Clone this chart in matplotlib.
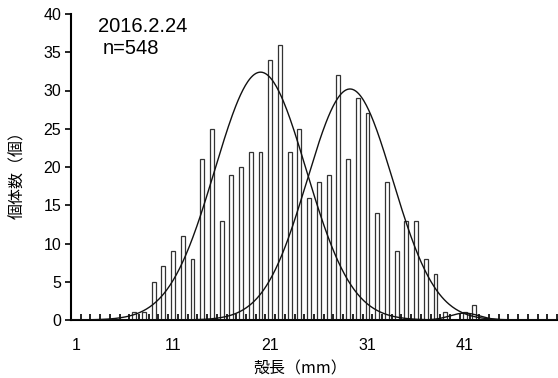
import numpy as np
import matplotlib
matplotlib.use("Agg")
import matplotlib.pyplot as plt
from matplotlib.ticker import MultipleLocator, FixedLocator

# shell length classes (mm) and counts
length = list(range(1, 51))
counts = [0, 0, 0, 0, 0, 0, 1, 1, 5, 7,
          9, 11, 8, 21, 25, 13, 19, 20, 22, 22,
          34, 36, 22, 25, 16, 18, 19, 32, 21, 29,
          27, 14, 18, 9, 13, 13, 8, 6, 1, 0,
          1, 2, 0, 0, 0, 0, 0, 0, 0, 0]

# fitted normal components: mean, sd, peak height
comp_mean = [20.0, 29.2, 41.0]
comp_sd = [4.7, 4.4, 1.5]
comp_peak = [32.4, 30.2, 0.9]

xticks = [1, 11, 21, 31, 41]

latin = ['Liberation Sans', 'DejaVu Sans']
jp = ['Noto Sans CJK JP', 'DejaVu Sans']

fig = plt.figure(figsize=(5.58, 3.78), dpi=100)
ax = fig.add_axes([71 / 558, 1 - 320 / 378, 486 / 558, 306 / 378])

ax.bar(length, counts, width=0.4, color='white', edgecolor='#333333', linewidth=0.9, zorder=2)

xs = np.linspace(0.5, 50.5, 600)
for m, s, p in zip(comp_mean, comp_sd, comp_peak):
    ax.plot(xs, p * np.exp(-0.5 * ((xs - m) / s) ** 2), color='#111111', lw=1.0, zorder=3)

ax.set_xlim(0.5, 50.5)
ax.set_ylim(0, 40)
ax.yaxis.set_major_locator(MultipleLocator(5))
ax.xaxis.set_major_locator(FixedLocator(xticks))
ax.xaxis.set_minor_locator(FixedLocator(np.arange(0.5, 51, 1)))
ax.tick_params(axis='x', which='major', length=0, pad=13)
ax.tick_params(axis='x', which='minor', direction='in', length=4, width=1.2)
ax.tick_params(axis='y', direction='out', length=4, width=1.2, pad=3)
for lab in ax.get_xticklabels() + ax.get_yticklabels():
    lab.set_family(latin)
    lab.set_fontsize(11.5)

for side in ['top', 'right']:
    ax.spines[side].set_visible(False)
for side in ['left', 'bottom']:
    ax.spines[side].set_linewidth(1.5)

ax.set_xlabel('殻長（mm）', family=jp, fontsize=11.5, va='center', ha='center')
ax.xaxis.set_label_coords((300 - 71) / 486, -(369 - 320) / 306)
ax.set_ylabel('個体数（個）', family=jp, fontsize=11.5, va='center', ha='center')
ax.yaxis.set_label_coords(-(71 - 18) / 486, (320 - 171) / 306)

fig.text(98 / 558, 1 - 26 / 378, '2016.2.24', family=latin, fontsize=14.5, va='center', ha='left')
fig.text(103 / 558, 1 - 49 / 378, 'n=548', family=latin, fontsize=14.5, va='center', ha='left')

fig.savefig('out.png', dpi=100)
